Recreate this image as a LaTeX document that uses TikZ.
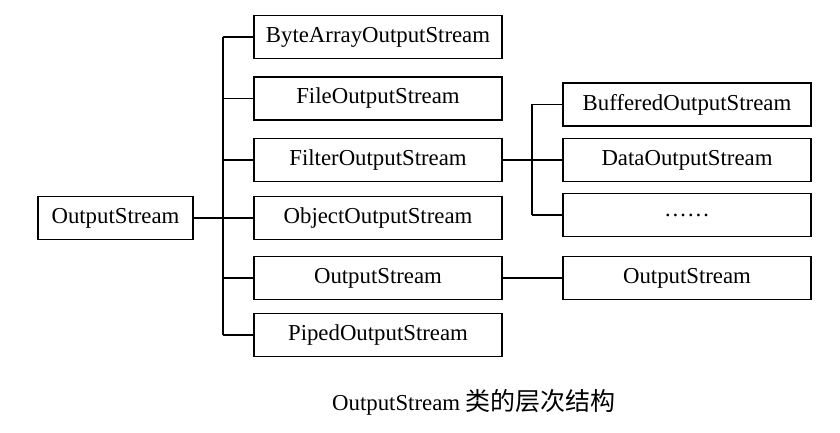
\documentclass[tikz,border=0pt]{standalone}
\usepackage{fontspec}
\setmainfont{Liberation Serif}
\newfontfamily\cjk{Noto Sans CJK SC}
\begin{document}
\begin{tikzpicture}[x=0.5pt,y=-0.5pt,line width=0.9pt,
    classbox/.style={draw, minimum width=124pt, minimum height=21.5pt, inner sep=0pt,
        font=\fontsize{11.4}{13}\selectfont}]
    \useasboundingbox (0,0) rectangle (840,433);
    % root
    \node[classbox, minimum width=77.5pt] (root) at (115.5,218) {OutputStream};
    % direct subclasses
    \node[classbox] (bytearray) at (378,37) {ByteArrayOutputStream};
    \node[classbox] (file) at (378,98.5) {FileOutputStream};
    \node[classbox] (filter) at (378,160) {FilterOutputStream};
    \node[classbox] (object) at (378,218) {ObjectOutputStream};
    \node[classbox] (output) at (378,278) {OutputStream};
    \node[classbox] (piped) at (378,335) {PipedOutputStream};
    % subclasses of the filter stream
    \node[classbox] (buffered) at (687,104.5) {BufferedOutputStream};
    \node[classbox] (data) at (687,160) {DataOutputStream};
    \node[classbox] (more) at (687,215) {……};
    \node[classbox] (outright) at (687,278) {OutputStream};
    % trunk on the left
    \coordinate (trunk) at (223,0);
    \draw (root.east) -- (object.west);
    \draw (bytearray.west -| trunk) -- (piped.west -| trunk);
    \foreach \n in {bytearray,file,filter,output,piped}
        \draw (\n.west -| trunk) -- (\n.west);
    % trunk on the right
    \coordinate (branch) at (532,0);
    \draw (filter.east) -- (data.west);
    \draw (buffered.west -| branch) -- (more.west -| branch);
    \foreach \n in {buffered,more}
        \draw (\n.west -| branch) -- (\n.west);
    \draw (output.east) -- (outright.west);
    % caption
    \node[font=\fontsize{11.4}{13}\selectfont] (caption) at (474,402)
        {OutputStream {\cjk\fontsize{12.5}{13}\selectfont 类的层次结构}};
\end{tikzpicture}
\end{document}
